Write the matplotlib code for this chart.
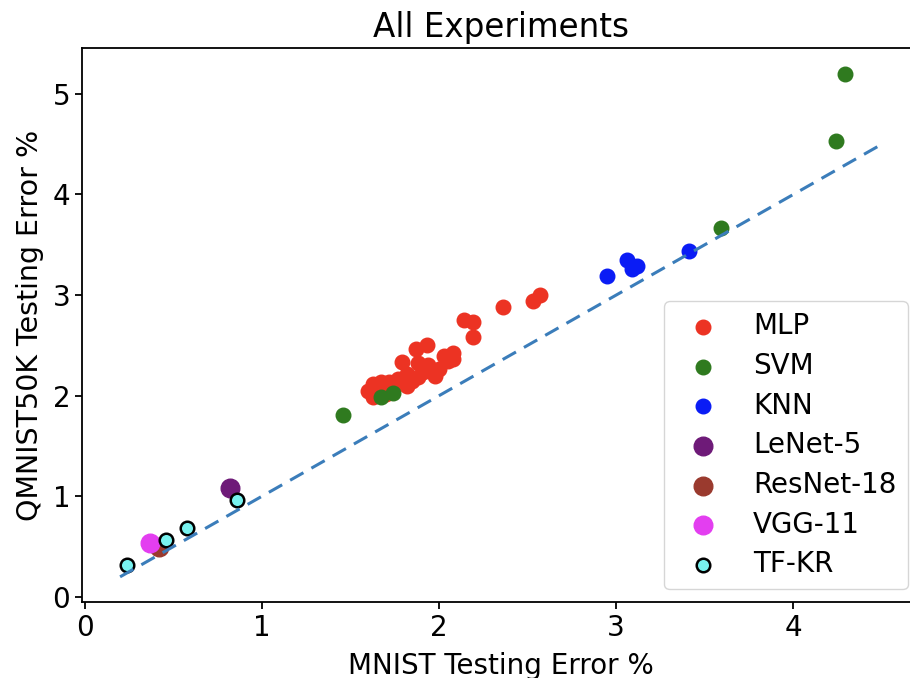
import numpy as np
import matplotlib
matplotlib.use('Agg')
import matplotlib.pyplot as plt

# MNIST error (x) vs QMNIST50K error (y)
mlp_x = [2.36, 2.53, 2.57, 2.14, 2.19, 2.19, 1.93, 1.87, 2.08, 1.79, 1.88, 1.94,
         2.05, 2.00, 1.91, 1.82, 1.77, 1.72, 1.67, 1.63, 1.60, 1.88, 1.95, 1.82,
         1.74, 1.69, 2.03, 2.08, 1.63, 1.70, 1.76, 1.85, 1.98]
mlp_y = [2.88, 2.94, 3.00, 2.75, 2.73, 2.58, 2.50, 2.46, 2.42, 2.33, 2.32, 2.30,
         2.34, 2.27, 2.24, 2.22, 2.17, 2.14, 2.14, 2.12, 2.05, 2.19, 2.25, 2.10,
         2.07, 2.05, 2.39, 2.36, 1.99, 2.02, 2.12, 2.15, 2.20]
svm_x = [4.29, 4.24, 3.59, 1.46, 1.67, 1.74]
svm_y = [5.20, 4.53, 3.67, 1.81, 1.99, 2.03]
knn_x = [2.95, 3.06, 3.09, 3.12, 3.41]
knn_y = [3.19, 3.35, 3.26, 3.29, 3.44]
lenet_x = [0.82]
lenet_y = [1.08]
resnet_x = [0.42]
resnet_y = [0.50]
vgg_x = [0.37]
vgg_y = [0.54]
tfkr_x = [0.24, 0.46, 0.58, 0.86]
tfkr_y = [0.32, 0.57, 0.69, 0.96]
diag = [0.2, 4.5]

plt.rcParams['font.size'] = 20
plt.rcParams['axes.linewidth'] = 1.3

fig = plt.figure(figsize=(9.1, 6.78), dpi=100)
ax = fig.add_axes([0.0901, 0.1121, 0.921, 0.8164])

ax.plot(diag, diag, '--', color='#3b7dba', lw=2.2, dashes=(5, 3))
ax.scatter(mlp_x, mlp_y, s=110, color='#ec3323', label='MLP')
ax.scatter(svm_x, svm_y, s=110, color='#2f7a1f', label='SVM')
ax.scatter(knn_x, knn_y, s=110, color='#0a1cf5', label='KNN')
ax.scatter(lenet_x, lenet_y, s=180, color='#6e1a78', label='LeNet-5')
ax.scatter(resnet_x, resnet_y, s=180, color='#9a3a2e', label='ResNet-18')
ax.scatter(vgg_x, vgg_y, s=180, color='#e33ef0', label='VGG-11')
ax.scatter(tfkr_x, tfkr_y, s=95, color='#78f2ef', edgecolors='black',
           linewidths=1.8, label='TF-KR')

ax.set_title('All Experiments', fontsize=23.5, pad=8)
ax.set_xlabel('MNIST Testing Error %', fontsize=20, labelpad=7)
ax.set_ylabel('QMNIST50K Testing Error %', fontsize=20.5, labelpad=6)
ax.set_xticks([0, 1, 2, 3, 4])
ax.set_yticks([0, 1, 2, 3, 4, 5])
ax.tick_params(length=5, width=1.3, labelsize=20)
ax.legend(loc='lower right', fontsize=20, borderaxespad=0.45, labelspacing=0.42)

fig.savefig('out.png', dpi=100)
